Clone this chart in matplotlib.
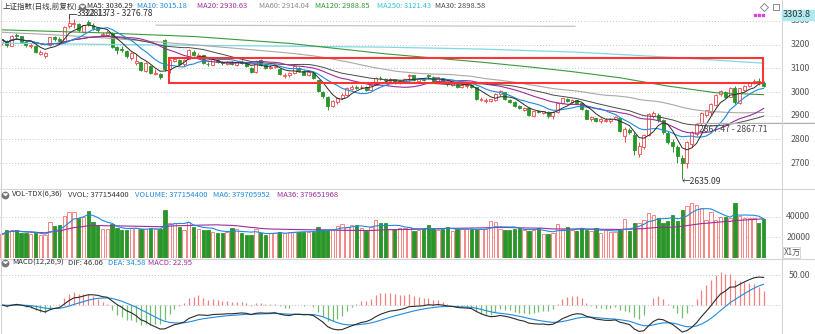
import numpy as np
import pandas as pd
import matplotlib
matplotlib.use("Agg")
import matplotlib.pyplot as plt
from matplotlib.lines import Line2D
from matplotlib.patches import Rectangle

plt.rcParams['font.family'] = ['Noto Sans CJK SC', 'DejaVu Sans']

W, H = 815, 334
X0, DX = 2.0, 4.79          # pixel position of bar 0 and bar spacing

# 上证指数 daily bars, 2023-07-11 .. 2024-03-07
closes = [
    3221.37, 3196.13, 3236.48, 3237.70, 3209.63, 3197.82, 3198.84, 3169.52, 3167.75, 3164.16,
    3231.52, 3223.03, 3216.67, 3275.93, 3291.04, 3290.95, 3261.69, 3280.46, 3288.08, 3268.83,
    3260.62, 3244.49, 3254.56, 3189.25, 3178.43, 3176.18, 3150.13, 3163.74, 3131.95, 3092.98,
    3120.33, 3078.40, 3082.24, 3064.07, 3098.64, 3135.89, 3137.14, 3119.88, 3133.25, 3177.06,
    3154.37, 3158.08, 3122.35, 3116.72, 3137.06, 3127.40, 3122.40, 3126.55, 3117.74, 3125.93,
    3124.25, 3108.57, 3084.70, 3132.43, 3115.61, 3102.27, 3107.32, 3110.48, 3075.24, 3072.83,
    3078.96, 3107.90, 3088.10, 3073.81, 3083.50, 3058.71, 3005.39, 2983.06, 2939.29, 2962.24,
    2974.11, 2988.30, 3017.78, 3021.55, 3018.77, 3023.08, 3009.41, 3030.80, 3058.41, 3057.27,
    3052.37, 3053.28, 3038.97, 3046.53, 3056.35, 3072.83, 3050.93, 3054.37, 3050.28, 3067.93,
    3043.61, 3061.86, 3040.97, 3031.70, 3038.55, 3021.69, 3029.67, 3031.64, 3022.91, 2972.30,
    2968.93, 2966.21, 2969.56, 2991.44, 3003.45, 2968.76, 2958.99, 2942.56, 2930.80, 2932.39,
    2902.11, 2918.72, 2914.78, 2918.81, 2898.86, 2914.61, 2954.70, 2974.93, 2962.28, 2967.25,
    2954.35, 2929.18, 2887.54, 2893.25, 2877.70, 2886.65, 2881.98, 2886.29, 2893.99, 2833.62,
    2845.78, 2832.28, 2756.34, 2770.98, 2820.77, 2906.11, 2910.22, 2883.36, 2830.53, 2788.55,
    2770.74, 2730.15, 2702.19, 2789.49, 2829.70, 2865.90, 2910.54, 2922.73, 2950.96, 2988.36,
    3004.88, 2977.02, 3015.48, 2957.85, 3015.17, 3027.02, 3039.31, 3047.79, 3039.93, 3027.40,
]
opens = [
    3205, 3215, 3195, 3242, 3235, 3210, 3192, 3196, 3160, 3152,
    3200, 3232, 3225, 3213, 3278, 3285, 3285, 3255, 3295, 3283,
    3270, 3240, 3240, 3250, 3190, 3180, 3172, 3142, 3122, 3125,
    3090, 3110, 3076, 3075, 3219, 3098, 3130, 3135, 3118, 3140,
    3170, 3150, 3155, 3120, 3115, 3135, 3128, 3118, 3128, 3115,
    3128, 3125, 3100, 3085, 3135, 3113, 3100, 3105, 3098, 3068,
    3070, 3080, 3100, 3088, 3072, 3082, 3050, 2998, 2980, 2940,
    2958, 2975, 2988, 3012, 3022, 3020, 3022, 3010, 3035, 3060,
    3056, 3048, 3050, 3038, 3045, 3066, 3070, 3048, 3055, 3070,
    3065, 3045, 3058, 3040, 3030, 3035, 3020, 3025, 3030, 3020,
    2965, 2962, 2962, 2968, 2990, 3000, 2968, 2958, 2940, 2925,
    2932, 2900, 2920, 2912, 2916, 2898, 2915, 2955, 2972, 2958,
    2965, 2952, 2925, 2885, 2890, 2878, 2879, 2878, 2885, 2890,
    2815, 2840, 2820, 2740, 2770, 2820, 2900, 2905, 2880, 2828,
    2790, 2770, 2720, 2700, 2780, 2825, 2870, 2905, 2915, 2945,
    2990, 3000, 2980, 3015, 2955, 3010, 3025, 3037, 3045, 3040,
]
highs = [
    3225, 3220, 3240, 3250, 3238, 3215, 3205, 3200, 3175, 3170,
    3234, 3238, 3230, 3280, 3322.13, 3308, 3290, 3284, 3303, 3290,
    3273, 3255, 3262, 3252, 3195, 3192, 3175, 3170, 3160, 3128,
    3125, 3115, 3095, 3080, 3222, 3140, 3148, 3138, 3138, 3180,
    3178, 3165, 3158, 3128, 3140, 3140, 3132, 3130, 3130, 3130,
    3133, 3128, 3105, 3135, 3138, 3116, 3112, 3115, 3102, 3080,
    3085, 3112, 3105, 3092, 3090, 3085, 3052, 3005, 2985, 2968,
    2978, 2995, 3020, 3030, 3028, 3030, 3025, 3035, 3062, 3068,
    3060, 3058, 3052, 3050, 3060, 3078, 3073, 3060, 3058, 3078,
    3068, 3065, 3060, 3043, 3042, 3038, 3032, 3035, 3033, 3022,
    2978, 2975, 2972, 2995, 3008, 3002, 2972, 2962, 2945, 2936,
    2935, 2922, 2925, 2922, 2918, 2918, 2958, 2976, 2976, 2970,
    2968, 2955, 2930, 2898, 2892, 2890, 2892, 2892, 2900, 2892,
    2852, 2848, 2830, 2790, 2825, 2910, 2918, 2912, 2885, 2835,
    2800, 2775, 2735, 2795, 2835, 2870, 2915, 2925, 2955, 2992,
    3010, 3005, 3020, 3025, 3018, 3030, 3043, 3055, 3060, 3048,
]
lows = [
    3200, 3190, 3193, 3225, 3205, 3190, 3185, 3166, 3155, 3142,
    3195, 3215, 3212, 3210, 3270, 3270, 3255, 3250, 3280, 3262,
    3255, 3238, 3235, 3186, 3160, 3170, 3145, 3135, 3115, 3090,
    3085, 3075, 3070, 3055, 3087, 3080, 3125, 3115, 3110, 3138,
    3150, 3145, 3120, 3110, 3112, 3122, 3115, 3112, 3112, 3108,
    3118, 3105, 3082, 3080, 3110, 3095, 3095, 3100, 3070, 3060,
    3065, 3078, 3085, 3070, 3068, 3055, 3000, 2975, 2923, 2935,
    2950, 2970, 2985, 3008, 3012, 3012, 3005, 3008, 3033, 3050,
    3045, 3043, 3035, 3032, 3042, 3052, 3048, 3045, 3045, 3055,
    3040, 3042, 3038, 3025, 3025, 3018, 3015, 3018, 3015, 2968,
    2960, 2955, 2956, 2962, 2985, 2965, 2952, 2938, 2928, 2920,
    2898, 2895, 2910, 2908, 2890, 2888, 2912, 2950, 2958, 2950,
    2950, 2925, 2885, 2876, 2872, 2870, 2872, 2870, 2880, 2830,
    2791, 2825, 2735, 2724, 2760, 2815, 2890, 2875, 2825, 2780,
    2745, 2700, 2635.09, 2680, 2770, 2815, 2860, 2895, 2905, 2940,
    2985, 2975, 2978, 2950, 2950, 3005, 3020, 3033, 3030, 3022,
]
# 成交量, 万
volumes = [
    23000, 27200, 27200, 27200, 23900, 23900, 23000, 23900, 22300, 22300,
    34700, 31100, 32000, 40800, 44300, 44300, 38500, 39500, 45600, 35300,
    32000, 27800, 27800, 32700, 28800, 27200, 27200, 28800, 28800, 27800,
    27800, 28800, 27800, 27800, 46600, 34300, 34300, 30400, 27200, 35300,
    30400, 27800, 27200, 27200, 25600, 23900, 24600, 25600, 28800, 27800,
    23900, 22300, 22300, 27800, 23900, 22300, 23900, 23900, 25600, 24600,
    25600, 25600, 25600, 25600, 25600, 25600, 29800, 27200, 27200, 27200,
    31100, 32700, 30400, 32000, 32000, 28800, 26500, 30400, 36900, 33600,
    33600, 27800, 27800, 29300, 29300, 29800, 26500, 27200, 27800, 32000,
    27800, 27200, 27800, 30400, 26500, 27800, 27800, 27800, 27800, 27800,
    27800, 27800, 35500, 34800, 27800, 27200, 27200, 28100, 28800, 27200,
    26500, 27200, 28800, 23300, 23000, 23900, 32700, 27800, 29800, 27200,
    26500, 28800, 27200, 26500, 28800, 23900, 27200, 25600, 25600, 27000,
    37500, 26500, 34300, 33600, 36900, 43400, 41800, 39000, 33600, 36000,
    41800, 36000, 46600, 50300, 53100, 51500, 48200, 37300, 45000, 37300,
    39500, 39500, 39000, 53100, 40500, 38500, 38500, 39000, 33608, 37715.44,
]

# longer averages need history before the first bar, so they are kept as read points
ma60_head_idx = [0, 10, 20, 30, 40, 50]
ma60_head = [3252, 3242, 3230, 3215, 3199, 3182]
ma120_idx = [0, 20, 40, 60, 80, 100, 110, 119, 129, 139, 149, 159]
ma120_vals = [3262, 3250, 3234, 3205, 3161, 3126, 3106, 3086, 3060, 3025, 2997, 2988.85]
ma250_idx = [0, 20, 40, 60, 80, 100, 120, 140, 159]
ma250_vals = [3206, 3201, 3197, 3193, 3189, 3181, 3168, 3146, 3121.43]

price_ticks = [3300, 3200, 3100, 3000, 2900, 2800, 2700]
vol_ticks = [40000, 20000]
macd_ticks = [50.0]

RED = '#f04848'
VRED = '#f47272'
GREEN = '#2a962a'
GRID = '#b4b4b4'
C_MA5, C_MA10, C_MA20, C_MA30 = '#2b2b2b', '#1f8ae0', '#9b2d9b', '#4a4a4a'
C_MA60, C_MA120, C_MA250 = '#a8a8a8', '#3a9a3a', '#7fd9e2'
HDR = 5.4      # header font size


def px_x(p):
    return (p - X0) / DX


fig = plt.figure(figsize=(W / 100, H / 100), dpi=100)
fig.patch.set_facecolor('white')


def panel(y0, y1):
    ax = fig.add_axes([0, 1 - y1 / H, 781 / W, (y1 - y0) / H])
    ax.set_xlim(px_x(0), px_x(781))
    ax.set_axis_off()
    return ax


def ftext(x, y, s, color='#333333', size=HDR, **kw):
    fig.text(x / W, 1 - y / H, s, color=color, fontsize=size, va='center', **kw)


def icon(x, y):
    fig.add_artist(Line2D([x / W], [1 - y / H], marker='o', ms=4.6, color='#777777',
                          transform=fig.transFigure))
    fig.add_artist(Line2D([x / W], [1 - y / H], marker=7, ms=2.2, color='white',
                          transform=fig.transFigure))


o = np.array(opens, float)
c = np.array(closes, float)
hi = np.array(highs, float)
lo = np.array(lows, float)
vol = np.array(volumes, float)
idx = np.arange(len(c))
up = c >= o

# ---------------- price panel ----------------
ax_p = panel(0, 188)
ax_p.set_ylim(2595.3, 3387.9)
for t in price_ticks:
    ax_p.axhline(t, color=GRID, lw=0.6, ls=(0, (1, 2.5)), zorder=0)
    ax_p.text(810 / 781, t, str(t), transform=ax_p.get_yaxis_transform(), ha='right',
              va='center', fontsize=6.3, color='#555555', clip_on=False)

cols = np.where(up, RED, GREEN)
ax_p.vlines(idx, lo, hi, colors=cols, lw=0.7, zorder=3)
ax_p.bar(idx, np.maximum(np.abs(c - o), 0.9), bottom=np.minimum(o, c), width=0.62,
         color=np.where(up, 'white', GREEN), edgecolor=cols, linewidth=0.6, zorder=4)

cs = pd.Series(c)
ma = {n: cs.rolling(n, min_periods=1).mean().values for n in (5, 10, 20, 30)}
ma60 = cs.rolling(60).mean().values
ax_p.plot(ma250_idx, ma250_vals, color=C_MA250, lw=0.9, zorder=5)
ax_p.plot(ma120_idx, ma120_vals, color=C_MA120, lw=0.8, zorder=5)
ax_p.plot(ma60_head_idx + list(idx[59:]), ma60_head + list(ma60[59:]), color=C_MA60, lw=0.8, zorder=5)
ax_p.plot(idx, ma[30], color=C_MA30, lw=0.7, zorder=5)
ax_p.plot(idx, ma[20], color=C_MA20, lw=0.8, zorder=5)
ax_p.plot(idx, ma[10], color=C_MA10, lw=0.8, zorder=5)
ax_p.plot(idx, ma[5], color=C_MA5, lw=0.7, zorder=5)

# drawn objects: box and two price lines
ax_p.add_patch(Rectangle((px_x(169.3), 3039.2), px_x(763.3) - px_x(169.3), 3144.6 - 3039.2,
                         fill=False, ec='#ff3333', lw=1.5, zorder=7))
ax_p.plot([px_x(156), px_x(575)], [3281.73, 3276.78], color='#c4c4c4', lw=0.9, zorder=2)
ax_p.plot([px_x(697), px_x(815)], [2867.47, 2867.71], color='#b0b0b0', lw=0.9, zorder=6,
          clip_on=False)

imax = int(np.argmax(hi))
imin = int(np.argmin(lo))
ax_p.plot([imax, imax, px_x(76)], [hi[imax] - 10, hi[imax] + 8, hi[imax] + 8],
          color='#333333', lw=0.6, zorder=6)
ax_p.text(px_x(77), 3329, f'{hi[imax]:.2f}', fontsize=6.2, color='#333333', va='center', zorder=8)
ax_p.text(px_x(84), 3329, '3281.73 - 3276.78', fontsize=6.2, color='#333333', va='center', zorder=8)
ax_p.text(px_x(699), 2842, '2867.47 - 2867.71', fontsize=6.2, color='#444444', va='center', zorder=8)
ax_p.text(px_x(682), lo[imin] - 14, f'\u2190{lo[imin]:.2f}', fontsize=6.2, color='#333333',
          va='center', zorder=8)

# ---------------- volume panel ----------------
ax_v = panel(189, 258)
ax_v.set_ylim(0, 66890)
for t in vol_ticks:
    ax_v.axhline(t, color=GRID, lw=0.6, ls=(0, (1, 2.5)), zorder=0)
    ax_v.text(810 / 781, t, str(t), transform=ax_v.get_yaxis_transform(), ha='right',
              va='center', fontsize=6.3, color='#555555', clip_on=False)
ax_v.bar(idx, vol, width=0.7, color=np.where(up, 'white', GREEN),
         edgecolor=np.where(up, VRED, GREEN), linewidth=0.6, zorder=3)
vs = pd.Series(vol)
ax_v.plot(idx, vs.rolling(36, min_periods=1).mean(), color='#9b2d9b', lw=0.8, zorder=4)
ax_v.plot(idx, vs.rolling(6, min_periods=1).mean(), color='#1f8ae0', lw=0.8, zorder=4)

# ---------------- MACD panel ----------------
ax_m = panel(259, 334)
ax_m.set_ylim(-48.3, 76.7)
ema12 = cs.ewm(span=12, adjust=False).mean()
ema26 = cs.ewm(span=26, adjust=False).mean()
dif = (ema12 - ema26).values
dea = pd.Series(dif).ewm(span=9, adjust=False).mean().values
hist = 2 * (dif - dea)
for t in [0.0] + macd_ticks:
    ax_m.axhline(t, color=GRID, lw=0.6, ls=(0, (1, 2.5)), zorder=0)
ax_m.text(810 / 781, 50, '50.00', transform=ax_m.get_yaxis_transform(), ha='right',
          va='center', fontsize=6.3, color='#555555', clip_on=False)
ax_m.vlines(idx, 0, hist, colors=np.where(hist >= 0, '#f28080', '#72bd72'), lw=0.9, zorder=2)
ax_m.plot(idx, dea, color='#1f8ae0', lw=0.8, zorder=3)
ax_m.plot(idx, dif, color='#2b2b2b', lw=0.8, zorder=3)

# ---------------- frame lines ----------------
for y in (188.5, 258.5):
    fig.add_artist(Line2D([0, 1], [1 - y / H] * 2, color='#d4d4d4', lw=0.8, transform=fig.transFigure))
fig.add_artist(Line2D([781.5 / W] * 2, [0, 1], color='#d4d4d4', lw=0.8, transform=fig.transFigure))
fig.add_artist(Line2D([0.5 / W] * 2, [0, 1], color='#d4d4d4', lw=0.8, transform=fig.transFigure))

# current price tag and toolbar marks
fig.add_artist(Rectangle((781.5 / W, 1 - 19.5 / H), 34 / W, 9.5 / H, color='#aee9ef',
                         transform=fig.transFigure, zorder=10))
ftext(783, 14.8, '3303.8', color='#333333', size=6.6, zorder=11)
for k in range(3):
    fig.add_artist(Line2D([(755 + 4 * k) / W], [1 - 15 / H], marker='s', ms=1.6, color='#e040e0',
                          lw=0, transform=fig.transFigure))
fig.add_artist(Line2D([764 / W], [1 - 6.5 / H], marker='D', ms=3.6, mfc='none', mec='#777777',
                      lw=0, mew=0.6, transform=fig.transFigure))
fig.add_artist(Line2D([776 / W], [1 - 6.5 / H], marker='s', ms=4.4, mfc='none', mec='#777777',
                      lw=0, mew=0.6, transform=fig.transFigure))
fig.add_artist(Rectangle((782.5 / W, 1 - 258 / H), 17.5 / W, 11.5 / H, fill=False, ec='#cfcfcf',
                         lw=0.6, transform=fig.transFigure))
ftext(784, 252.5, 'X1万', color='#555555', size=5.8)

# ---------------- headers ----------------
ftext(3, 6.5, '上证指数(日线,前复权)')
icon(82, 6.5)
ftext(87, 6.5, 'MA5: 3036.29', color=C_MA5)
ftext(137, 6.5, 'MA10: 3015.18', color=C_MA10)
ftext(197, 6.5, 'MA20: 2930.63', color=C_MA20)
ftext(259, 6.5, 'MA60: 2914.04', color='#8a8a8a')
ftext(315, 6.5, 'MA120: 2988.85', color='#2e9a2e')
ftext(377, 6.5, 'MA250: 3121.43', color='#2ec4d2')
ftext(435, 6.5, 'MA30: 2898.58', color=C_MA30)

icon(5, 195)
ftext(12, 195, 'VOL-TDX(6,36)', size=5.5)
ftext(68, 195, 'VVOL: 377154400', size=5.5)
ftext(135, 195, 'VOLUME: 377154400', color='#1f8ae0', size=5.5)
ftext(213, 195, 'MA6: 379705952', color='#1f8ae0', size=5.5)
ftext(277, 195, 'MA36: 379651968', color='#9b2d9b', size=5.5)

icon(5, 263)
ftext(12, 263, 'MACD(12,26,9)', size=5.5)
ftext(68, 263, 'DIF: 46.06', size=5.5)
ftext(108, 263, 'DEA: 34.58', color='#1f8ae0', size=5.5)
ftext(148, 263, 'MACD: 22.95', color='#9b2d9b', size=5.5)

fig.savefig('out.png', dpi=100, facecolor='white')
